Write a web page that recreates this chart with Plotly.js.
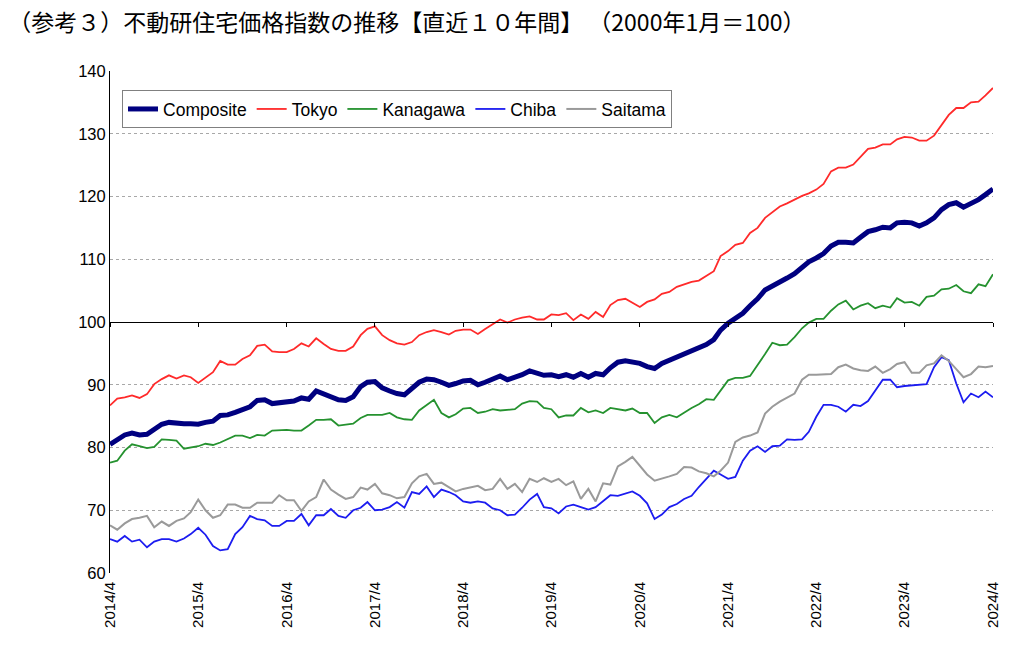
<!DOCTYPE html>
<html>
<head>
<meta charset="utf-8">
<script src="https://cdn.plot.ly/plotly-3.0.1.min.js"></script>
<style>html,body{margin:0;padding:0;background:#fff;}#chart{width:1024px;height:649px;}</style>
</head>
<body>
<div id="chart"></div>
<script>
// Monthly observations, 2014/4 .. 2024/4 (121 months)
const startYear = 2014, startMonth = 4, nMonths = 121;
const tickLabels = ["2014/4","2015/4","2016/4","2017/4","2018/4","2019/4","2020/4","2021/4","2022/4","2023/4","2024/4"];
const seriesNames = ["Composite","Tokyo","Kanagawa","Chiba","Saitama"];

const composite = [80.5,81.3,82.0,82.3,82.0,82.1,82.9,83.7,84.0,83.8,83.8,83.8,83.7,84.0,84.2,85.1,85.2,85.6,86.1,86.5,
87.5,87.6,87.0,87.1,87.1,87.4,87.9,87.7,89.0,88.5,88.1,87.6,87.5,88.1,89.7,90.4,90.5,89.5,89.0,88.6,
88.4,89.3,90.4,90.9,90.8,90.4,89.9,90.2,90.6,90.7,90.0,90.4,90.9,91.4,90.8,91.2,91.6,92.2,91.8,91.5,
91.6,91.3,91.6,91.2,91.8,91.2,91.8,91.6,92.7,93.6,93.8,93.7,93.4,92.9,92.6,93.4,93.9,94.4,94.9,95.4,
95.9,96.4,97.2,98.7,99.8,100.6,101.4,102.6,103.7,105.1,105.8,106.5,107.0,107.7,108.8,109.6,110.2,110.9,112.1,112.7,
112.7,112.6,113.5,114.4,114.7,115.1,115.0,115.8,115.9,115.8,115.3,115.8,116.6,117.9,118.7,119.0,118.3,118.9,119.5,120.3,
121.2];

const tokyo = [86.7,87.8,88.0,88.3,87.9,88.5,90.1,90.9,91.5,91.0,91.5,91.2,90.3,91.1,92.0,93.8,93.2,93.2,94.1,94.7,
96.2,96.4,95.3,95.2,95.2,95.7,96.6,96.1,97.4,96.5,95.7,95.4,95.4,96.1,97.9,98.9,99.3,97.9,97.1,96.6,
96.4,96.8,97.9,98.4,98.7,98.4,98.0,98.6,98.8,98.8,98.1,98.9,99.7,100.4,99.9,100.4,100.7,100.9,100.4,100.4,
101.2,101.1,101.4,100.3,101.2,100.5,101.6,100.8,102.7,103.5,103.7,103.1,102.4,103.2,103.6,104.5,104.8,105.6,106.0,106.4,
106.6,107.3,108.1,110.5,111.3,112.3,112.6,114.2,115.0,116.6,117.5,118.4,118.9,119.5,120.1,120.5,121.1,122.0,124.0,124.6,
124.6,125.1,126.3,127.6,127.8,128.3,128.3,129.1,129.5,129.4,128.9,128.9,129.7,131.4,133.0,134.1,134.1,135.0,135.1,136.1,
137.3];

const kanagawa = [77.6,77.9,79.5,80.5,80.2,79.9,80.1,81.3,81.2,81.1,79.8,80.0,80.2,80.6,80.4,80.8,81.3,81.9,81.9,81.5,
82.0,81.9,82.7,82.8,82.8,82.7,82.7,83.5,84.4,84.4,84.5,83.5,83.6,83.8,84.7,85.2,85.2,85.2,85.5,84.8,
84.5,84.4,85.9,86.8,87.6,85.5,84.8,85.3,86.2,86.3,85.5,85.7,86.1,85.9,86.0,86.1,87.0,87.4,87.3,86.3,
86.1,84.8,85.1,85.1,86.3,85.6,85.9,85.5,86.3,86.1,85.9,86.2,85.5,85.5,83.9,84.8,85.2,84.8,85.6,86.3,
86.9,87.7,87.6,89.1,90.7,91.1,91.1,91.4,93.1,94.9,96.7,96.3,96.4,97.6,99.0,99.9,100.5,100.5,101.8,102.8,
103.4,102.0,102.6,103.0,102.2,102.6,102.3,103.8,103.1,103.2,102.6,104.0,104.2,105.2,105.3,105.9,104.9,104.6,106.0,105.7,
107.6];

const chiba = [65.4,65.0,65.9,65.0,65.3,64.1,65.0,65.4,65.4,65.0,65.5,66.2,67.2,66.1,64.3,63.6,63.8,66.2,67.3,69.1,
68.6,68.4,67.5,67.5,68.3,68.3,69.4,67.6,69.2,69.2,70.2,69.1,68.8,70.0,70.4,71.3,70.0,70.1,70.5,71.3,
70.4,72.9,72.6,73.8,72.1,73.3,72.9,72.4,71.4,71.2,71.4,71.2,70.3,70.0,69.2,69.3,70.4,71.7,72.6,70.5,
70.3,69.5,70.6,70.9,70.5,70.1,70.5,71.4,72.4,72.3,72.7,73.0,72.3,71.1,68.6,69.3,70.5,71.0,71.8,72.3,
73.7,75.0,76.3,75.7,75.0,75.3,77.9,79.5,80.2,79.3,80.2,80.3,81.3,81.2,81.3,82.5,84.9,86.8,86.8,86.5,
85.7,86.8,86.6,87.4,89.1,90.8,90.8,89.6,89.8,89.9,89.9,90.1,92.8,94.4,93.9,90.2,87.2,88.6,88.0,88.9,
88.0];

const saitama = [67.6,66.9,67.9,68.6,68.8,69.1,67.3,68.2,67.5,68.3,68.7,69.7,71.7,70.0,68.8,69.2,70.9,70.9,70.4,70.4,
71.2,71.2,71.2,72.4,71.6,71.6,69.9,71.4,72.1,74.9,73.3,72.5,71.8,72.1,73.6,73.3,74.2,72.7,72.4,71.9,
72.1,74.3,75.4,75.8,74.2,74.4,73.7,73.0,73.4,73.6,73.9,73.2,73.4,75.0,73.4,74.2,72.9,75.0,74.5,75.1,
74.5,75.0,74.0,74.6,71.8,73.4,71.4,74.3,74.1,77.0,77.7,78.5,77.0,75.7,74.7,75.0,75.4,75.8,76.9,76.8,
76.2,75.9,75.4,76.3,77.6,80.9,81.6,81.9,82.4,85.4,86.5,87.3,88.0,88.6,90.8,91.6,91.6,91.6,91.7,92.8,
93.2,92.6,92.3,92.2,92.9,91.9,92.5,93.3,93.6,91.9,91.9,93.1,93.4,94.7,93.8,92.5,91.2,91.7,92.9,92.8,
93.0];

// month axis (dates)
const months = [];
for (let i = 0; i < nMonths; i++) {
  const t = (startMonth - 1) + i;
  const y = startYear + Math.floor(t / 12);
  const m = (t % 12) + 1;
  months.push(y + "-" + String(m).padStart(2, "0") + "-01");
}
const tickVals = tickLabels.map(s => { const [y, m] = s.split("/"); return y + "-" + String(m).padStart(2, "0") + "-01"; });

const values = [composite, tokyo, kanagawa, chiba, saitama];
const colors = ["#000080", "#ff2a2a", "#25922f", "#1c1cf0", "#9a9a9a"];
const widths = [5, 1.8, 1.8, 1.8, 2];

const traces = seriesNames.map((n, i) => ({
  type: "scatter", mode: "lines", name: n, x: months, y: values[i],
  line: {color: colors[i], width: widths[i]}
}));
// carrier trace for the axis line crossing at 100
traces.push({type: "scatter", mode: "lines", x: [months[0]], y: [null], xaxis: "x2", yaxis: "y",
  showlegend: false, hoverinfo: "skip"});

const layout = {
  width: 1024, height: 649,
  paper_bgcolor: "#fff", plot_bgcolor: "#fff",
  margin: {l: 110, r: 31, t: 71, b: 76},
  font: {family: "Liberation Sans, Arial, sans-serif", color: "#000"},
  title: {
    text: "（参考３）不動研住宅価格指数の推移【直近１０年間】 （2000年1月＝100）",
    font: {family: "Noto Sans CJK JP, sans-serif", size: 23, color: "#000"},
    x: 0.008, xanchor: "left", xref: "container",
    y: 0.965, yanchor: "middle", yref: "container"
  },
  xaxis: {
    type: "date", range: [months[0], months[nMonths - 1]],
    tickmode: "array", tickvals: tickVals, ticktext: tickLabels,
    tickangle: -90, tickfont: {size: 15, family: "Liberation Sans, Arial, sans-serif"},
    showgrid: false, showline: false, zeroline: false, ticks: "", ticklabelstandoff: 5
  },
  xaxis2: {
    type: "date", range: [months[0], months[nMonths - 1]], overlaying: "x",
    anchor: "free", position: 0.5, side: "bottom",
    tickmode: "array", tickvals: tickVals, showticklabels: false,
    ticks: "outside", ticklen: 4, tickcolor: "#000", tickwidth: 1,
    showline: true, linecolor: "#000", linewidth: 1.2, showgrid: false, zeroline: false
  },
  yaxis: {
    range: [60, 140], tickmode: "array", tickvals: [60,70,80,90,100,110,120,130,140],
    tickfont: {size: 16.5, family: "Liberation Sans, Arial, sans-serif"},
    showgrid: true, gridcolor: "#a8a8a8", griddash: "dot", gridwidth: 1,
    showline: true, linecolor: "#000", linewidth: 1, zeroline: false, ticks: "", ticklabelstandoff: 0
  },
  legend: {
    orientation: "h", x: 0.0136, y: 0.962, xanchor: "left", yanchor: "top",
    bordercolor: "#808080", borderwidth: 1, bgcolor: "#fff",
    font: {size: 17.5, family: "Liberation Sans, Arial, sans-serif"},
    itemwidth: 30, tracegroupgap: 0
  },
  showlegend: true
};

Plotly.newPlot("chart", traces, layout, {displayModeBar: false, staticPlot: true});
</script>
</body>
</html>
